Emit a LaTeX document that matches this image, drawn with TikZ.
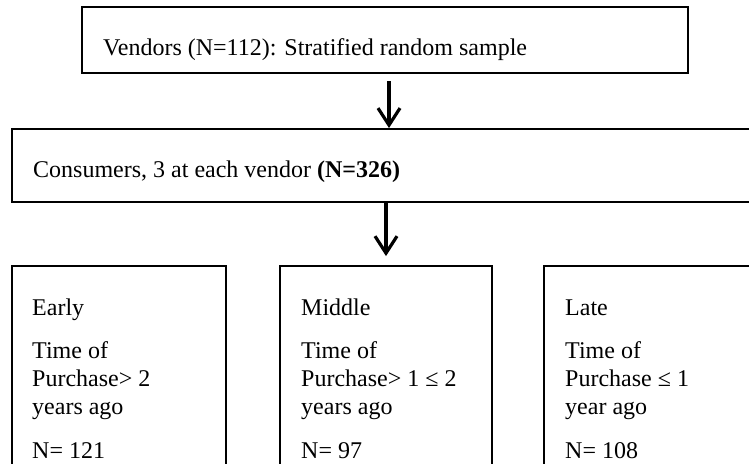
\documentclass[tikz,border=0pt]{standalone}
\usepackage{fontspec}
\setmainfont{Liberation Serif}
\usetikzlibrary{arrows.meta}
\begin{document}
\begin{tikzpicture}[x=1pt,y=-1pt,
  box/.style={draw, line width=1.8pt, rectangle, inner sep=0pt},
  txt/.style={anchor=base west, inner sep=0pt, font=\fontsize{24}{28}\selectfont},
  arr/.style={line width=3.2pt, -{Straight Barb[length=17pt,width=22pt,line width=3.2pt]}}]
  \useasboundingbox (0,0) rectangle (749,463);
  \clip (0,0) rectangle (749,463);
  \fill[white] (0,0) rectangle (749,463);

  % boxes
  \node[box, minimum width=606pt, minimum height=66pt] (vend) at (385,40.2) {};
  \node[box, minimum width=748pt, minimum height=72.7pt] (cons) at (386,165.3) {};
  \node[box, minimum width=214pt, minimum height=224pt] (early) at (119,378) {};
  \node[box, minimum width=212pt, minimum height=224pt] (middle) at (386,378) {};
  \node[box, minimum width=216pt, minimum height=224pt] (late) at (652,378) {};

  % labels
  \node[txt] (tvend) at (103,55) {Vendors (N=112): Stratified random sample};
  \node[txt] (tcons) at (33,177) {Consumers, 3 at each vendor \textbf{(N=326)}};
  \node[txt] (tearly) at (32,315) {\parbox[t]{190pt}{\raggedright Early\\[15pt]Time of\\Purchase> 2\\years ago\\[16pt]N= 121}};
  \node[txt] (tmiddle) at (301,315) {\parbox[t]{190pt}{\raggedright Middle\\[15pt]Time of\\Purchase> 1 ≤ 2\\years ago\\[16pt]N= 97}};
  \node[txt] (tlate) at (565,315) {\parbox[t]{190pt}{\raggedright Late\\[15pt]Time of\\Purchase ≤ 1\\year ago\\[16pt]N= 108}};

  % connectors
  \path (vend.south) ++(4,7) coordinate (a1s);
  \coordinate (a1e) at (a1s |- cons.north);
  \draw[arr] (a1s) -- (a1e);
  \path (cons.south) coordinate (a2s);
  \path (middle.north) ++(0,-9) coordinate (a2e);
  \draw[arr] (a2s) -- (a2e);
\end{tikzpicture}
\end{document}
